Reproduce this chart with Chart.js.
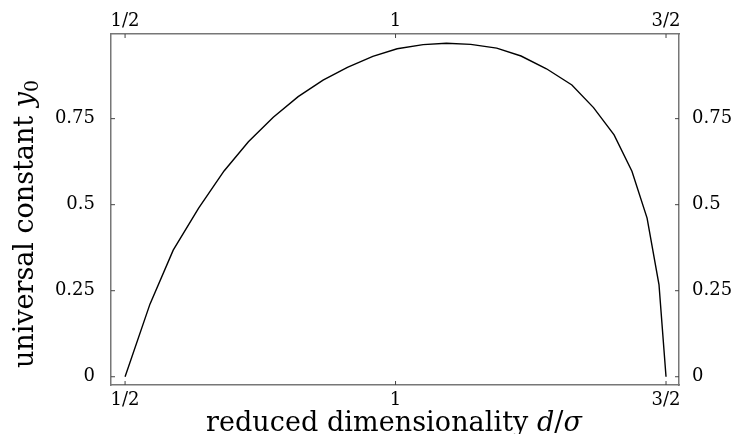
<!DOCTYPE html>
<html><head><meta charset="utf-8">
<script src="https://cdn.jsdelivr.net/npm/chart.js@4"></script>
<style>html,body{margin:0;padding:0;background:#fff}#wrap{width:734px;height:434px;position:relative}</style>
</head><body><div id="wrap"><canvas id="c" width="734" height="434"></canvas></div>
<script>
// ---- data ----
const xValues = [0.5, 0.546, 0.589, 0.636, 0.683, 0.728, 0.774, 0.820, 0.866, 0.911, 0.958, 1.003, 1.051, 1.094, 1.139, 1.187, 1.232, 1.279, 1.326, 1.366, 1.404, 1.437, 1.465, 1.487, 1.5];
const yValues = [0, 0.211, 0.368, 0.490, 0.598, 0.683, 0.754, 0.814, 0.862, 0.899, 0.931, 0.953, 0.965, 0.969, 0.966, 0.955, 0.932, 0.895, 0.848, 0.782, 0.703, 0.597, 0.461, 0.268, 0];
const xTickValues = [0.5, 1, 1.5];
const xTickLabels = ['1/2', '1', '3/2'];
const yTickValues = [0, 0.25, 0.5, 0.75];
const yTickLabels = ['0', '0.25', '0.5', '0.75'];
const xTitleText = 'reduced dimensionality ';
const yTitleText = 'universal constant ';

const FONT = 'DejaVu Serif';
const tickFont = {family: FONT, size: 18};
const frameColor = '#777';

function xAxis(pos, h, pad) {
  return {
    type: 'linear', position: pos, min: 0.474, max: 1.524,
    afterBuildTicks: s => { s.ticks = xTickValues.map(v => ({value: v})); },
    afterFit: s => { s.height = h; },
    ticks: {callback: (v, i) => xTickLabels[i], font: tickFont, color: '#000', padding: pad, maxRotation: 0, autoSkip: false},
    grid: {drawOnChartArea: false, drawTicks: false},
    border: {display: true, color: frameColor, width: 1.5}
  };
}
function yAxis(pos, w, pad) {
  return {
    type: 'linear', position: pos, min: -0.024, max: 0.996,
    afterBuildTicks: s => { s.ticks = yTickValues.map(v => ({value: v})); },
    afterFit: s => { s.width = w; },
    ticks: {callback: (v, i) => yTickLabels[i], font: tickFont, color: '#000', padding: pad, autoSkip: false},
    grid: {drawOnChartArea: false, drawTicks: false},
    border: {display: true, color: frameColor, width: 1.5}
  };
}

const innerTicks = {
  id: 'innerTicks',
  afterDraw(chart) {
    const ctx = chart.ctx, a = chart.chartArea, L = 4;
    ctx.save();
    ctx.strokeStyle = '#444';
    ctx.lineWidth = 1;
    Object.values(chart.scales).forEach(s => {
      s.ticks.forEach(t => {
        const p = s.getPixelForValue(t.value);
        ctx.beginPath();
        if (s.position === 'bottom') { ctx.moveTo(p, a.bottom); ctx.lineTo(p, a.bottom - L); }
        else if (s.position === 'top') { ctx.moveTo(p, a.top); ctx.lineTo(p, a.top + L); }
        else if (s.position === 'left') { ctx.moveTo(a.left, p); ctx.lineTo(a.left + L, p); }
        else { ctx.moveTo(a.right, p); ctx.lineTo(a.right - L, p); }
        ctx.stroke();
      });
    });
    ctx.restore();
  }
};

function drawRuns(ctx, runs, targetW) {
  let w = 0, n = 0;
  runs.forEach(r => { ctx.font = r.font; ctx.letterSpacing = '0px'; r.w = ctx.measureText(r.text).width; w += r.w; n += r.text.length; });
  const sp = (targetW - w) / n;
  let x = -targetW / 2;
  runs.forEach(r => {
    ctx.font = r.font;
    ctx.letterSpacing = sp + 'px';
    ctx.fillText(r.text, x, r.dy || 0);
    x += r.w + sp * r.text.length;
  });
  ctx.letterSpacing = '0px';
}

const axisTitles = {
  id: 'axisTitles',
  afterDraw(chart) {
    const ctx = chart.ctx;
    const f = '27px "' + FONT + '"', fi = 'italic 27px "' + FONT + '"';
    ctx.save();
    ctx.fillStyle = '#000';
    ctx.textAlign = 'left';
    ctx.textBaseline = 'alphabetic';
    ctx.save();
    ctx.translate(394, 431);
    drawRuns(ctx, [
      {text: xTitleText, font: f},
      {text: 'd', font: fi},
      {text: '/', font: f},
      {text: 'σ', font: fi}
    ], 376);
    ctx.restore();
    ctx.save();
    ctx.translate(33, 224);
    ctx.rotate(-Math.PI / 2);
    drawRuns(ctx, [
      {text: yTitleText, font: f},
      {text: 'y', font: fi},
      {text: '0', font: '19px "' + FONT + '"', dy: 5}
    ], 288);
    ctx.restore();
    ctx.restore();
  }
};

new Chart(document.getElementById('c'), {
  type: 'scatter',
  data: {
    datasets: [{
      data: xValues.map((x, i) => ({x: x, y: yValues[i]})),
      showLine: true, borderColor: '#000', borderWidth: 1.4, pointRadius: 0, tension: 0, fill: false
    }]
  },
  options: {
    responsive: false, animation: false,
    layout: {padding: 0},
    plugins: {legend: {display: false}, tooltip: {enabled: false}},
    scales: {
      x: xAxis('bottom', 49, 5),
      x2: xAxis('top', 34, 2),
      y: yAxis('left', 111, 16),
      y2: yAxis('right', 55, 13)
    }
  },
  plugins: [innerTicks, axisTitles]
});
</script>
</body></html>
